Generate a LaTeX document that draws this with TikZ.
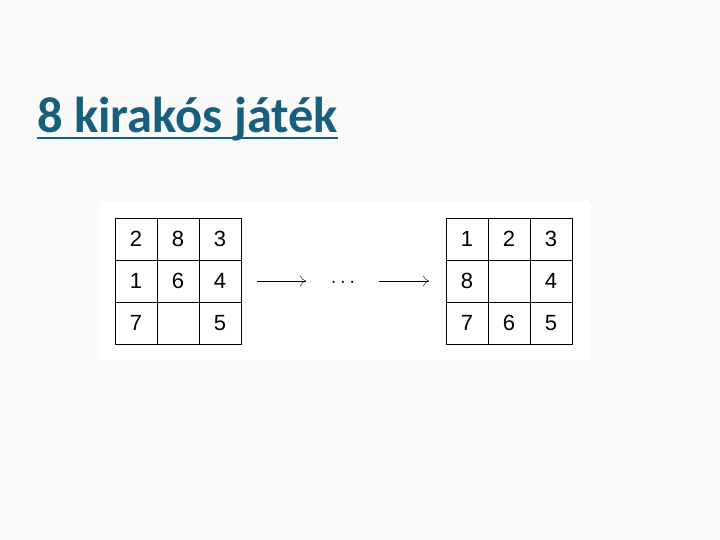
\documentclass[tikz,border=0pt]{standalone}
\usepackage{fontspec}
\usepackage{tikz}
\usetikzlibrary{arrows.meta}
\setmainfont{Liberation Sans}
\newfontfamily\titlefont{Carlito}
\definecolor{titleblue}{RGB}{23,96,125}

\begin{document}
\begin{tikzpicture}[x=1pt, y=-1pt]
\tikzset{cell/.style={draw, thin, minimum size=42pt, inner sep=0pt, font=\fontsize{22}{22}\selectfont}}
\tikzset{move/.style={thin,-{To[length=6pt,width=11pt]}}}

\fill[black!2] (0,0) rectangle (720,540);
\useasboundingbox (0,0) rectangle (720,540);
\fill[white] (100,202) rectangle (590,360);

\node[anchor=base west, inner sep=0pt, text=titleblue, font=\titlefont\bfseries\fontsize{50.5}{50.5}\selectfont] (title) at (37,133) {8 kirakós játék};
\draw[titleblue, line width=2.5pt] ([yshift=-5pt]title.base west) -- ([yshift=-5pt]title.base east);

% start state
\foreach \lab [count=\i from 0] in {2,8,3,1,6,4,7,,5} {
  \pgfmathtruncatemacro{\c}{mod(\i,3)}
  \pgfmathtruncatemacro{\r}{div(\i,3)}
  \node[cell] (s\i) at (136+42*\c, 239+42*\r) {\lab};
}
% goal state
\foreach \lab [count=\i from 0] in {1,2,3,8,,4,7,6,5} {
  \pgfmathtruncatemacro{\c}{mod(\i,3)}
  \pgfmathtruncatemacro{\r}{div(\i,3)}
  \node[cell] (g\i) at (467+42*\c, 239+42*\r) {\lab};
}

\node[font=\fontsize{22}{22}\selectfont] (dots) at (343,283) {$\cdots$};
\coordinate (a1) at (257,281);
\coordinate (a2) at (306,281);
\coordinate (b1) at (379,281);
\coordinate (b2) at (429,281);
\draw[move] (a1) -- (a2);
\draw[move] (b1) -- (b2);

\end{tikzpicture}
\end{document}
